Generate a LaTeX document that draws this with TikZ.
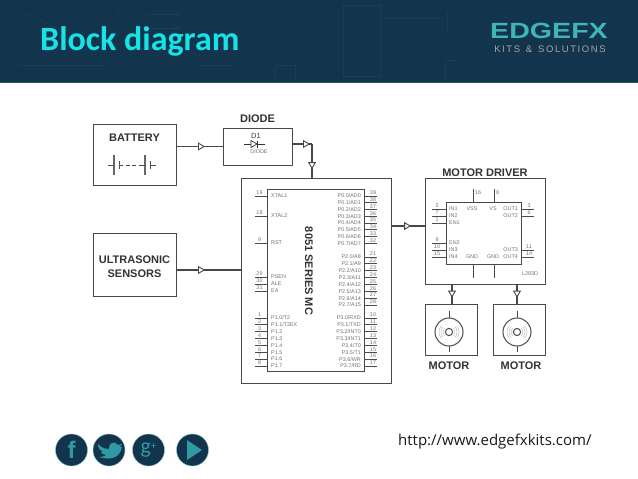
\documentclass[tikz,border=0pt]{standalone}
\usepackage{fontspec}
\setmainfont{Liberation Sans}
\newfontfamily\titlefont{Carlito}
\newfontfamily\urlfont{Open Sans}
\usetikzlibrary{arrows.meta,decorations.markings,positioning}
\definecolor{bandblue}{HTML}{12344D}
\definecolor{bandline}{HTML}{1B3D55}
\definecolor{bandedge}{HTML}{2A4F63}
\definecolor{titlecyan}{HTML}{17E3E6}
\definecolor{logoteal}{HTML}{3FB5B5}
\definecolor{icongreen}{HTML}{2F9AA3}
\definecolor{linegray}{HTML}{484848}
\tikzset{
    blockbox/.style={draw=linegray,line width=1pt,fill=white,minimum width=#1,inner sep=0pt},
    chipbox/.style={draw=linegray,line width=0.9pt,inner sep=0pt},
    heading/.style={font=\bfseries\fontsize{11}{12}\selectfont,text=black!80,align=center,inner sep=0pt},
    pinlabel/.style={font=\fontsize{5.4}{6}\selectfont,text=black!55,inner sep=0pt},
    pinline/.style={draw=black!70,line width=0.8pt},
    wire/.style={draw=linegray,line width=1.1pt},
    midtri/.style={postaction={decorate},decoration={markings,
        mark=at position #1 with {\arrow{Triangle[open,fill=white,length=7pt,width=8pt,line width=0.9pt]}}}},
    faint/.style={draw=bandline,line width=0.5pt},
    socialicon/.style={circle,fill=bandblue,draw=icongreen!60,line width=0.4pt,minimum size=32pt,inner sep=0pt,
        text=icongreen,font=\bfseries\fontsize{24}{24}\selectfont},
}
\begin{document}
\begin{tikzpicture}[x=1pt,y=-1pt]
    \useasboundingbox (0,0) rectangle (638,479);
    \fill[white] (0,0) rectangle (638,479);
    % header band
    \fill[bandblue] (0,0) rectangle (638,82);
    \draw[bandedge,line width=1pt] (0,82.5) -- (638,82.5);
    \draw[faint] (343,5) rectangle (380,76);
    \draw[faint] (26,14) -- (26,44) -- (60,29) -- cycle;
    \draw[faint] (148,14) -- (178,14) (148,28) -- (178,28) (18,65) -- (105,65) (200,65) -- (235,65);
    \draw[faint] (122,10) circle (4pt);
    \draw[faint] (172,10) -- (172,19) -- (180,14) -- cycle (172,24) -- (172,33) -- (180,28) -- cycle;
    \draw[faint] (385,18) -- (440,18) (450,12) -- (447,12) -- (447,30) -- (450,30);
    \draw[faint] (445,82) -- (445,60) -- (458,60);
    \draw[faint] (275,82) -- (275,65) -- (295,65) -- (295,82);
    \node[anchor=west,inner sep=0pt,text=titlecyan,font=\titlefont\bfseries\fontsize{34}{34}\selectfont] (title) at (40,41) {Block diagram};
    % logo
    \node[inner sep=0pt,text=logoteal,font=\bfseries\fontsize{22}{22}\selectfont,xscale=1.3] (logo) at (549,30.5) {EDGEFX};
    \node[inner sep=0pt,text=black!35,font=\fontsize{9.5}{10}\selectfont] (logosub) at (550,49) {K\,I\,T\,S\, \,\&\, \,S\,O\,L\,U\,T\,I\,O\,N\,S};

    % blocks
    \node[blockbox=83pt,minimum height=61pt] (battery) at (134.5,154.5) {};
    \node[heading,anchor=center] (batterylab) at (134.5,138) {BATTERY};
    \node[blockbox=69pt,minimum height=37pt] (diode) at (257.5,146.5) {};
    \node[heading,above=5pt of diode] (diodelab) {DIODE};
    \node[blockbox=83pt,minimum height=63pt] (sensors) at (134.5,264.5) {};
    \node[heading] (sensorslab) at (134.5,267) {ULTRASONIC\\[2pt]SENSORS};
    \node[blockbox=150pt,minimum height=205pt] (mcbox) at (316,280.5) {};
    \node[chipbox,minimum width=97pt,minimum height=182pt] (mcchip) at (315.5,280) {};
    \node[heading,rotate=-90] (mclab) at (309,271) {8051 SERIES MC};
    \node[blockbox=120pt,minimum height=106pt] (driver) at (485,231) {};
    \node[chipbox,minimum width=75pt,minimum height=62pt] (driverchip) at (483.5,233) {};
    \node[heading,above=1pt of driver] (driverlab) {MOTOR DRIVER};
    \node[blockbox=52pt,minimum height=51pt] (motora) at (451,329.5) {};
    \node[blockbox=52pt,minimum height=51pt] (motorb) at (519,329.5) {};
    \node[heading,below=6pt of motora,xshift=-2pt] (motoralab) {MOTOR};
    \node[heading,below=6pt of motorb,xshift=2pt] (motorblab) {MOTOR};

    % connectors
    \draw[wire,midtri=0.62] (battery.east |- diode.west) -- (diode.west);
    \coordinate (diodeout) at (292,144);
    \coordinate (diodecorner) at (312,144);
    \coordinate (sensorsout) at (176,270);
    \coordinate (mcout) at (391,226);
    \draw[wire,midtri=0.9] (diodeout) -- (diodecorner);
    \draw[wire,midtri=0.75] (diodecorner) -- (diodecorner |- mcbox.north);
    \draw[wire,midtri=0.45] (sensorsout) -- (sensorsout -| mcbox.west);
    \draw[wire,midtri=0.6] (mcout) -- (mcout -| driver.west);
    \coordinate (drva) at (452,284);
    \coordinate (drvb) at (517,284);
    \draw[wire,midtri=0.7] (drva) -- (drva |- motora.north);
    \draw[wire,midtri=0.7] (drvb) -- (drvb |- motorb.north);

    % battery symbol
    \draw[black!60,line width=1.2pt] (114,155) -- (114,175) (145,155) -- (145,175);
    \draw[black!70,line width=0.7pt] (108,165) -- (114,165) (119,161) -- (119,169) (150,161) -- (150,169) (150,165) -- (156,165) (139,165) -- (145,165);
    \draw[black!70,line width=0.8pt,dash pattern=on 4pt off 2.5pt] (119,165) -- (139,165);

    % diode symbol
    \node[inner sep=0pt,font=\fontsize{7.5}{8}\selectfont,text=black!75] (d1lab) at (256,136) {D1};
    \node[pinlabel] (d1type) at (259,152) {DIODE};
    \draw[black!80,line width=0.7pt] (244,144) -- (251,144) (257,144) -- (265,144) (257,140.5) -- (257,147.5);
    \draw[black!80,line width=0.7pt,fill=white] (251,140.5) -- (251,147.5) -- (257,144) -- cycle;

    % 8051 pins
    \foreach \y/\n/\t in {196/19/XTAL1,216/18/XTAL2,243/9/RST,277/29/PSEN,284/30/ALE,291/31/EA}{
        \draw[pinline] (mcchip.west |- 0,\y) -- ++(-12,0);
        \node[pinlabel,anchor=west] (mcl\n) at (271,\y) {\t};
        \node[pinlabel] (mcn\n) at (259.5,\y-3) {\n};
    }
    \foreach \i/\t [evaluate=\i as \y using 318+6.85*\i, evaluate=\i as \n using int(\i+1)] in {0/{P1.0/T2},1/{P1.1/T2EX},2/P1.2,3/P1.3,4/P1.4,5/P1.5,6/P1.6,7/P1.7}{
        \draw[pinline] (mcchip.west |- 0,\y) -- ++(-12,0);
        \node[pinlabel,anchor=west] (mcl\n) at (271,\y) {\t};
        \node[pinlabel] (mcn\n) at (259.5,\y-3) {\n};
    }
    \foreach \i/\n [evaluate=\i as \y using 196+6.75*\i] in {0/39,1/38,2/37,3/36,4/35,5/34,6/33,7/32}{
        \draw[pinline] (mcchip.east |- 0,\y) -- ++(13,0);
        \node[pinlabel,anchor=east] (mcl\n) at (361,\y) {P0.\i/AD\i};
        \node[pinlabel] (mcn\n) at (373,\y-3) {\n};
    }
    \foreach \i/\n/\a [evaluate=\i as \y using 257+6.85*\i] in {0/21/8,1/22/9,2/23/10,3/24/11,4/25/12,5/26/13,6/27/14,7/28/15}{
        \draw[pinline] (mcchip.east |- 0,\y) -- ++(13,0);
        \node[pinlabel,anchor=east] (mcl\n) at (361,\y) {P2.\i/A\a};
        \node[pinlabel] (mcn\n) at (373,\y-3) {\n};
    }
    \foreach \i/\n/\t [evaluate=\i as \y using 318+6.85*\i] in {0/10/RXD,1/11/TXD,2/12/INT0,3/13/INT1,4/14/T0,5/15/T1,6/16/WR,7/17/RD}{
        \draw[pinline] (mcchip.east |- 0,\y) -- ++(13,0);
        \node[pinlabel,anchor=east] (mcl\n) at (361,\y) {P3.\i/\t};
        \node[pinlabel] (mcn\n) at (373,\y-3) {\n};
    }

    % L293D pins
    \foreach \y/\n/\t in {209/2/IN1,216/7/IN2,223/1/EN1,243/9/EN2,250/10/IN3,257/15/IN4}{
        \draw[pinline] (driverchip.west |- 0,\y) -- ++(-14,0);
        \node[pinlabel,anchor=west] (drl\n) at (449,\y) {\t};
        \node[pinlabel] (drn\n) at (437,\y-3) {\n};
    }
    \foreach \y/\n/\t in {209/3/OUT1,216/6/OUT2,250/11/OUT3,257/14/OUT4}{
        \draw[pinline] (driverchip.east |- 0,\y) -- ++(13,0);
        \node[pinlabel,anchor=east] (drl\n) at (518,\y) {\t};
        \node[pinlabel] (drn\n) at (529,\y-3) {\n};
    }
    \foreach \x/\n/\t in {473/16/VSS,494/8/VS}{
        \draw[pinline] (\x,189) -- (\x,189 |- driverchip.north);
        \node[pinlabel] (drt\t) at (\x-1,209) {\t};
        \node[pinlabel,anchor=west] (drn\n) at (\x+2,193) {\n};
    }
    \foreach \x/\k in {473/a,494/b}{
        \draw[pinline] (\x,278) -- (\x,278 |- driverchip.south);
        \node[pinlabel] (drg\k) at (\x-1,257) {GND};
    }
    \node[pinlabel] (drpart) at (530,274) {L293D};

    % motor symbols
    \foreach \x in {449,517}{
        \draw[black!70,line width=0.8pt] (\x,311) -- (\x,318) (\x,346) -- (\x,352);
        \draw[black!65,line width=1.1pt] (\x,332) circle (14pt);
        \draw[black!70,line width=1pt] (\x,332) circle (3.6pt);
        \foreach \r in {6,8,10}{
            \draw[black!30,line width=0.4pt] (\x,332) ++(-40:\r pt) arc (-40:40:\r pt);
            \draw[black!30,line width=0.4pt] (\x,332) ++(140:\r pt) arc (140:220:\r pt);
        }
    }

    % footer
    \node[socialicon] (fbicon) at (71.5,450) {f};
    \node[socialicon] (twicon) at (109,450) {};
    \fill[icongreen] (98,444) .. controls (103,449) and (106,449) .. (109,449) .. controls (108,443) and (115,440) .. (118,445) -- (122,444) -- (120,447) -- (122,447) .. controls (120,457) and (112,461) .. (99,457) .. controls (103,457) and (105,456) .. (106,455) .. controls (103,455) and (102,453) .. (101,452) -- (103,452) .. controls (100,451) and (98,448) .. (98,444) -- cycle;
    \node[socialicon,font=\titlefont\fontsize{22}{22}\selectfont] (gpicon) at (148.5,450) {g\raisebox{4pt}{\fontsize{11}{11}\selectfont +}};
    \node[socialicon] (playicon) at (192.5,450) {};
    \fill[icongreen] (187,440) -- (187,460) -- (202,450) -- cycle;
    \node[anchor=west,inner sep=0pt,text=black!90,font=\urlfont\fontsize{15}{15}\selectfont] (url) at (398,442) {http://www.edgefxkits.com/};
\end{tikzpicture}
\end{document}
